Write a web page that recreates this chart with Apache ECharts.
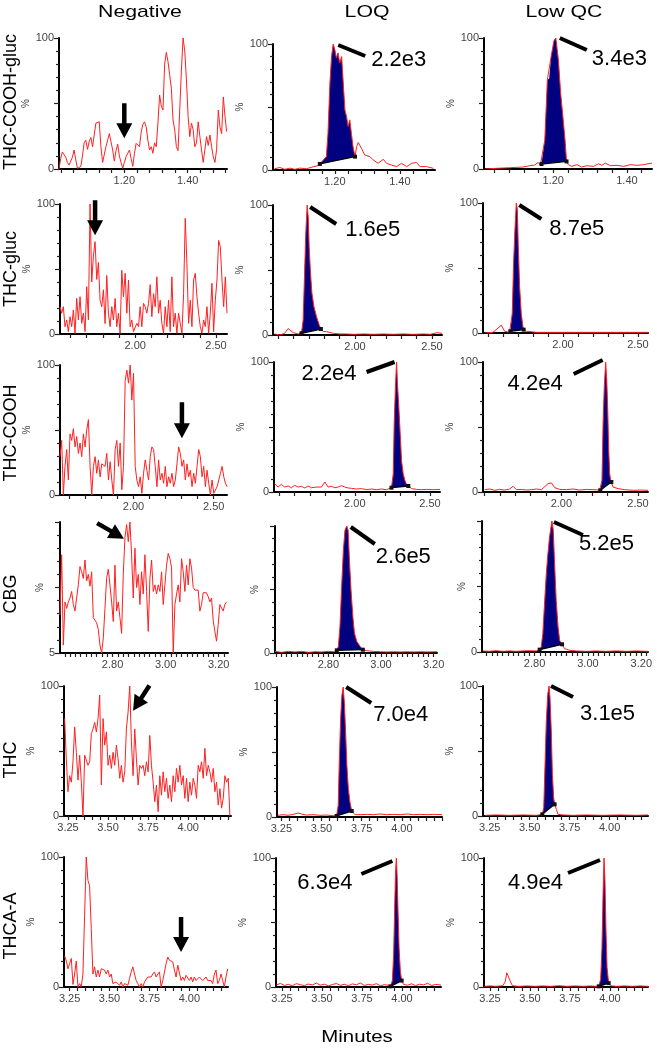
<!DOCTYPE html>
<html><head><meta charset="utf-8">
<script src="https://cdn.jsdelivr.net/npm/echarts@6/dist/echarts.min.js"></script>
<style>html,body{margin:0;padding:0;background:#fff}#c{width:657px;height:1050px}</style>
</head><body><div id="c"></div>
<script>
const FONT = "'Liberation Sans', Arial, sans-serif";
const rowNames = ['THC-COOH-gluc','THC-gluc','THC-COOH','CBG','THC','THCA-A'];
const colNames = ['Negative','LOQ','Low QC'];
const xAxisTitle = 'Minutes';
const xTickLabels = [[1.2,1.4],[2.0,2.5],[2.0,2.5],[2.8,3.0,3.2],[3.25,3.5,3.75,4.0],[3.25,3.5,3.75,4.0]];
const xMinorStep = [0.04,0.1,0.1,0.02,0.05,0.05];
const xRanges = [
 [[0.994,1.524],[1.010,1.508],[1.012,1.468]],
 [[1.535,2.568],[1.467,2.565],[1.467,2.567]],
 [[1.542,2.583],[1.462,2.567],[1.489,2.565]],
 [[2.602,3.235],[2.597,3.213],[2.603,3.225]],
 [[3.225,4.267],[3.223,4.25],[3.208,4.24]],
 [[3.215,4.242],[3.2125,4.244],[3.2125,4.238]]
];
const yTopLabels = ['100','100','100','','100','100'];
const yBottomNeg = ['0','0','0','5','0','0'];

// Negative (blank) traces: uniform sampling start time, step, intensities (%)
const negStart = [0.994, 1.535, 1.542, 2.602, 3.229, 3.219];
const negStep = [0.00529, 0.01033, 0.010417, 0.006274, 0.010417, 0.010417];
const neg1 = [0,8,13,11,9,5,3,3,9,14.5,7,0.5,1,2,10,20,22,15,21,24,17,26,35,36,36,17,5,5,17,22,27,21,14.5,6,14,19,10,5,0.5,5,9.4,12,14.5,8,2,12,19.6,21,17,28,34,36,32,22,14.5,17,12,20,17,35,56.5,48,45,80,89,82,72,61.6,37.4,30,17,14,45,75.6,100,90,68,40,24.7,35,30,17,20,36,25,14.5,5,5,24.7,18,26,17,9.4,5,15,45,32,27,55,40,28.5];
const neg2 = [21,16,21,5.6,10.8,1.8,13.3,5.6,18.5,0.5,27.4,10.8,28.7,8.2,16,1.8,36.4,10.8,100,40,60,71,42,55,26,21,34,8,45,16,5.6,21,10.8,27.4,5.6,16,0.5,49,28.7,46.7,16,41.5,5.6,10.8,1.8,0.5,8.2,5.6,21,5.6,23.6,21,16,23.6,38,13.3,31,21,44,16,26,8.2,0.5,21,5.6,26,1.8,44,5.6,16,0.5,16,8.2,0.5,31,89,54,8.2,26,5.6,41.5,46.7,28.7,16,5.6,0.5,10.8,5.6,21,0.5,16,39,1.8,26,41.5,72,67,41.5,21,44,16];
const neg3 = [29.5,42,0,22,35,11.5,47,42,51,37,45,32,40,29.5,47,37,50,58,22,0,22,29.5,16.7,27,14,24,24,22,32,11.5,25.6,11.5,0,35,42,22,40,4,22,88,96,86,100,73,93.6,22,11.5,6.4,14,1.3,16.7,27,19,11.5,29.5,37,35,22,6.4,27,11.5,16.7,9,22,6.4,14,9,16.7,6.4,11.5,24,37,32,22,27,11.5,24,14,19,6.4,16.7,9,22,35,29.5,14,22,6.4,19,9,0,11.5,1.3,0,6.4,11.5,16.7,22,14,9,6.4];
const neg4 = [29,75,6,39,34,39,42,47,37,32,42,52,66,62,57,71,55,60,51,62,27,25,23,18,6,0,11.5,34,57,64,52,39,24,67,32,39,27,15,60,88,98,85,100,75,42,80,50,60,37,62,45,75,47,16.5,57,71,47,52,45,52,47,62,37,52,67,76,72,65,0,37,45,52,39,72,62,47,67,52,72,65,50,48,47,48,32,37,46,47,46,43,39,42,25,16.5,9,21.6,37,37,32,37,39];
const neg5 = [75,44,18.7,31,26,41.7,68.5,49,27.6,46.8,26,0,46.8,46.8,39,41.7,63.4,67,72,64.7,75,93,23.8,75,54.5,64.7,39,46.8,36.6,49,39,54.5,44,29,39,26,34,67,80,100,57,31,67,44,23.8,39,36.6,39,31,41.7,34,62,39,26,11,23.8,3.3,31,16,34,18.7,29,13.6,23.8,11,31,18.7,36.6,26,39,23.8,31,13.6,29,11,26,16,29,23.8,13.6,39,34,41.7,29,52,31,39,34,26,36.6,18.7,26,8.4,21,6,13.6,31,26,29,0];
const neg6 = [24,20,14,18,22,2,10,20,0,2.6,0,10,55,100,82,78,45,10,15.5,7.7,13,7.7,14,14,13,10,13,7.7,10,2.6,1.3,3.9,2.6,1.3,3.9,0,2.6,3.9,1.3,6.4,11.6,15.5,10,5,2.6,0,2.6,0,3.9,2.6,7.7,9,7.7,10,11.6,7.7,10,11.6,0,5,6.4,18,23,20.6,22,19.3,13,7.7,16.8,15.5,5,7.7,5,9,7.7,5,7.7,3.9,7.7,5,3.9,7.7,9,5,3.9,7.7,5,3.9,5,2.6,10,13,2.6,5,10,5,0,7.7,14];
const negTraces = [neg1, neg2, neg3, neg4, neg5, neg6];

// LOQ traces [time, %]
const loq1 = [[1.015,1],[1.031,2],[1.046,0.5],[1.062,1.5],[1.077,0.5],[1.092,1.5],[1.113,1],[1.133,2.5],[1.149,3.5],[1.154,4.8],[1.174,10.6],[1.179,29],[1.185,69],[1.190,90],[1.195,100],[1.200,95.5],[1.205,89],[1.210,93],[1.215,85],[1.221,90],[1.226,69],[1.231,47.7],[1.236,42.4],[1.241,34.5],[1.246,39.8],[1.251,29],[1.256,18.6],[1.262,10.6],[1.267,18.6],[1.272,21.8],[1.282,17.2],[1.292,11.9],[1.308,10.6],[1.318,8],[1.333,5.3],[1.349,8.5],[1.359,5.3],[1.374,4],[1.390,2.7],[1.405,5.3],[1.421,2.7],[1.436,5.3],[1.451,6],[1.462,2.7],[1.482,2.7],[1.503,1.3]];
const loq2 = [[1.478,0.8],[1.511,0],[1.543,1.3],[1.565,5],[1.576,5.6],[1.598,1.8],[1.630,0.8],[1.652,1.3],[1.663,11.5],[1.674,55],[1.680,78],[1.689,100],[1.696,90.6],[1.702,67.6],[1.711,47],[1.720,32],[1.733,21.7],[1.750,14],[1.767,7.7],[1.778,4.6],[1.793,2.6],[1.815,2.6],[1.859,1.3],[1.902,0.8],[1.946,0.8],[1.989,0.5],[2.054,0.8],[2.120,0.5],[2.185,0.8],[2.250,0.5],[2.315,0.8],[2.380,0.5],[2.446,0.8],[2.489,0.5],[2.533,1.8],[2.565,1.3]];
const loq3 = [[1.467,6.4],[1.489,3.8],[1.511,5.9],[1.533,3.8],[1.556,4.6],[1.578,3.3],[1.600,5.1],[1.622,3.8],[1.644,4.4],[1.667,3.1],[1.689,4.6],[1.711,3.3],[1.744,3.8],[1.778,3.8],[1.800,7.7],[1.822,3.8],[1.844,4.4],[1.867,3.3],[1.889,3.8],[1.911,4.9],[1.933,3.8],[1.956,3.1],[1.978,2.8],[2.011,2.3],[2.044,2.6],[2.078,1.8],[2.111,2.3],[2.144,1.8],[2.178,2.3],[2.211,1.8],[2.244,3.3],[2.256,14],[2.262,52.6],[2.271,83],[2.278,100],[2.284,83],[2.293,65],[2.302,45],[2.311,24],[2.322,14],[2.333,9],[2.344,5.9],[2.356,4.6],[2.378,2.6],[2.411,2],[2.444,1.8],[2.478,2],[2.522,1.8],[2.567,2]];
const loq4 = [[2.597,1.3],[2.622,0.5],[2.648,1.3],[2.673,0.8],[2.698,1.3],[2.724,0.5],[2.749,1],[2.775,0.8],[2.800,1.3],[2.819,1],[2.832,2.1],[2.838,5.2],[2.844,21],[2.851,55],[2.857,81],[2.863,96.6],[2.870,100],[2.875,96.6],[2.880,73],[2.886,49.6],[2.893,28.7],[2.899,15.7],[2.908,9.1],[2.921,5.2],[2.931,2.6],[2.946,1.8],[2.971,1.3],[2.997,1],[3.022,0.8],[3.048,1],[3.073,0.8],[3.098,1],[3.124,0.8],[3.149,1],[3.175,0.8],[3.213,1]];
const loq5 = [[3.229,1.3],[3.260,1.8],[3.292,1.3],[3.323,2],[3.354,3.1],[3.375,2.3],[3.406,1.5],[3.448,1.8],[3.490,1.3],[3.531,1.5],[3.573,1],[3.594,0.8],[3.604,9],[3.610,39.7],[3.619,75.6],[3.627,93.6],[3.635,100],[3.642,88.5],[3.650,65.4],[3.658,39.7],[3.667,21.8],[3.677,11.5],[3.688,4.6],[3.708,1.8],[3.740,1.8],[3.781,2],[3.823,1.8],[3.865,2.3],[3.906,1.8],[3.948,2],[3.990,1.8],[4.031,2.3],[4.073,1.8],[4.115,2],[4.156,1.8],[4.198,2],[4.250,1.8]];
const loq6 = [[3.215,1.5],[3.240,2.8],[3.265,1.2],[3.290,2.0],[3.315,1.0],[3.340,2.6],[3.365,1.8],[3.390,1.1],[3.415,2.3],[3.440,1.6],[3.465,3.0],[3.490,1.4],[3.515,2.2],[3.540,0.9],[3.565,1.9],[3.590,2.7],[3.615,1.3],[3.640,2.1],[3.665,1.0],[3.690,2.4],[3.715,1.7],[3.740,3.1],[3.765,1.2],[3.790,2.0],[3.815,1.5],[3.840,2.6],[3.865,1.0],[3.890,1.8],[3.915,1.4],[3.928,0.5],[3.940,5],[3.948,25],[3.955,65],[3.960,90],[3.965,100],[3.970,85],[3.975,60],[3.982,30],[3.990,12],[3.998,5],[4.010,2],[4.035,1.4],[4.060,2.5],[4.085,1.1],[4.110,2.2],[4.135,1.6],[4.160,2.9],[4.185,1.2],[4.210,2.0],[4.244,1.5]];
// Low QC traces [time, %]
const qc1 = [[1.014,0],[1.045,0.5],[1.082,1],[1.118,1.5],[1.136,2.5],[1.150,3],[1.159,5],[1.165,3],[1.168,3.8],[1.177,22],[1.184,68],[1.189,69],[1.194,85.6],[1.202,98],[1.207,100],[1.214,83],[1.220,58],[1.227,37.5],[1.232,22],[1.236,5.8],[1.241,3.3],[1.250,2],[1.264,3.3],[1.277,1.5],[1.291,2.5],[1.309,2],[1.323,4],[1.332,2.8],[1.341,4.5],[1.355,2.5],[1.373,2.8],[1.391,2],[1.409,3.3],[1.427,2.8],[1.445,3.3],[1.468,4.5]];
const qc2 = [[1.478,0],[1.533,0.5],[1.567,3.8],[1.589,6],[1.611,1.3],[1.644,0.5],[1.649,1.3],[1.662,15],[1.671,54],[1.680,79.5],[1.689,100],[1.696,95],[1.702,67],[1.711,36],[1.722,15],[1.733,5],[1.738,2.6],[1.756,1.3],[1.789,1],[1.822,0.5],[1.933,0.5],[2.044,0.5],[2.156,0.5],[2.267,0.5],[2.378,0.5],[2.489,0.5],[2.567,0.5]];
const qc3 = [[1.500,1.8],[1.533,2.3],[1.565,1.3],[1.598,2],[1.630,1.5],[1.663,2.3],[1.685,4.4],[1.707,1.8],[1.739,2],[1.772,1.5],[1.804,1.8],[1.837,2.3],[1.870,1.8],[1.913,6.4],[1.935,7],[1.957,3.3],[1.989,2],[2.033,1.8],[2.076,2.3],[2.120,1.5],[2.163,2],[2.207,1.8],[2.250,1.5],[2.254,1.3],[2.265,9],[2.272,52.6],[2.280,80.8],[2.289,100],[2.296,86],[2.302,65],[2.309,32],[2.315,14],[2.322,8.5],[2.326,7.7],[2.337,3.8],[2.370,2.6],[2.413,1.8],[2.467,1.3],[2.522,1.5],[2.565,1.3]];
const qc4 = [[2.606,0.8],[2.631,0.5],[2.656,1],[2.681,0.5],[2.706,0.8],[2.731,0.5],[2.756,0.8],[2.781,1],[2.806,0.8],[2.819,1.8],[2.825,3.8],[2.831,14],[2.838,39.4],[2.844,59.8],[2.850,75],[2.856,87.8],[2.865,100],[2.870,92.9],[2.875,67.4],[2.881,39.4],[2.888,19],[2.894,8.9],[2.900,6.5],[2.903,5.9],[2.913,2.5],[2.931,1.3],[2.956,0.8],[2.994,0.5],[3.031,0.8],[3.069,0.5],[3.106,0.8],[3.144,0.5],[3.181,0.8],[3.225,0.5]];
const qc5 = [[3.219,0.5],[3.292,0.8],[3.375,0.5],[3.458,0.8],[3.542,0.5],[3.579,1.3],[3.588,6.4],[3.596,39.7],[3.604,73],[3.613,93.6],[3.621,100],[3.627,91],[3.635,65.4],[3.642,32],[3.650,14],[3.656,9],[3.667,5.1],[3.677,1.3],[3.708,0.8],[3.771,0.5],[3.854,0.8],[3.958,0.5],[4.063,0.8],[4.167,0.5],[4.240,0.8]];
const qc6 = [[3.215,0.5],[3.250,0.8],[3.290,0.5],[3.330,1],[3.345,4],[3.355,11],[3.365,12],[3.375,5],[3.390,1],[3.430,0.5],[3.480,0.8],[3.530,0.5],[3.580,0.8],[3.630,0.5],[3.680,1],[3.730,0.5],[3.780,0.8],[3.830,0.5],[3.880,0.8],[3.915,0.5],[3.930,0.5],[3.942,6],[3.950,30],[3.957,72],[3.963,100],[3.969,82],[3.975,45],[3.982,15],[3.992,3],[4.005,1],[4.040,0.5],[4.090,0.8],[4.140,0.5],[4.190,0.8],[4.240,0.5]];
const loqTraces = [loq1, loq2, loq3, loq4, loq5, loq6];
const qcTraces = [qc1, qc2, qc3, qc4, qc5, qc6];
// integration limits (min)
const loqInt = [[1.154,1.262],[1.652,1.778],[2.244,2.356],[2.832,2.931],[3.594,3.688],[3.928,3.998]];
const qcInt = [[1.168,1.236],[1.649,1.738],[2.254,2.326],[2.819,2.903],[3.579,3.656],[3.930,3.992]];
// peak heights (counts)
const loqLabels = ['2.2e3','1.6e5','2.2e4','2.6e5','7.0e4','6.3e4'];
const qcLabels = ['3.4e3','8.7e5','4.2e4','5.2e5','3.1e5','4.9e4'];
// arrows in blank: tip [time, %]
const arrowTips = [[1.20,23.4],[1.752,76],[2.302,43.6],[2.843,87.3],[3.656,81],[3.948,27]];

// ---- layout (pixels) ----
const gridBox = [
 [[59,227,38,169],[273,435,44,170],[484,652,38,169]],
 [[60,227,204,334],[273,442,205,335],[483,648,203,333]],
 [[60,227,365,495],[274,440,362,492],[483,648,362,492]],
 [[60,228,522,653],[275,437,526,653],[482,648,521,652]],
 [[64,231,686,816],[277,442,687,817],[483,648,686,816]],
 [[64,228,857,987],[276,441,858,987],[484,648,858,987]]
];
const arrowGeom = [[90,35],[90,35],[90,36],[30,31],[123,30],[90,35]];
// annotation: line dx1,dy1,dx2,dy2, text dx,dy
const annotLoq = [[5,1,32,12,38,16],[3,2,29,19,38,25],[-2,0,-30,10,-40,12],[4,1,28,18,29,31],[3,0,28,16,30,28],[-4,3,-35,16,-44,25]];
const annotQc = [[4,0,31,12,36,21],[3,2,25,16,33,26],[-3,-2,-32,12,-43,22],[2,1,31,14,27,23],[2,0,24,11,31,28],[-4,2,-36,15,-41,25]];

const grids = [], xAxes = [], yAxes = [], series = [];
const AX = '#000', LBL = '#444';
for (let r = 0; r < 6; r++) {
  for (let c = 0; c < 3; c++) {
    const k = grids.length;
    const b = gridBox[r][c];
    grids.push({left: b[0], top: b[2], width: b[1] - b[0], height: b[3] - b[2], containLabel: false, outerBoundsMode: 'none'});
    const mn = xRanges[r][c][0], mx = xRanges[r][c][1], st = xMinorStep[r];
    const ticks = [];
    for (let i = Math.ceil(mn / st - 1e-6); i * st <= mx + 1e-9; i++) ticks.push(+(i * st).toFixed(4));
    xAxes.push({
      type: 'value', gridIndex: k, min: mn, max: mx,
      axisLine: {onZero: false, lineStyle: {color: AX, width: 2}},
      axisTick: {show: true, customValues: ticks, length: 4, lineStyle: {color: '#222', width: 1.2}},
      axisLabel: {customValues: xTickLabels[r], formatter: v => v.toFixed(2), fontSize: 11, color: LBL, margin: 6, fontFamily: FONT},
      splitLine: {show: false}
    });
    const top = yTopLabels[r], bot = c === 0 ? yBottomNeg[r] : '0';
    yAxes.push({
      type: 'value', gridIndex: k, min: 0, max: 100, interval: 50,
      axisLine: {show: true, lineStyle: {color: AX, width: 2}},
      axisTick: {show: true, length: 5, lineStyle: {color: '#222', width: 1.2}},
      minorTick: {show: true, splitNumber: 5, length: 3, lineStyle: {color: '#222', width: 1.2}},
      axisLabel: {formatter: v => v === 0 ? bot : (v === 100 ? top : ''), fontSize: 11, color: LBL, margin: 5, fontFamily: FONT},
      splitLine: {show: false},
      name: '%', nameLocation: 'middle', nameGap: 11, nameRotate: 90,
      nameTextStyle: {fontSize: 10, color: LBL, fontFamily: FONT}
    });
    let trace;
    if (c === 0) {
      trace = negTraces[r].map((v, i) => [negStart[r] + i * negStep[r], v]);
    } else {
      trace = c === 1 ? loqTraces[r] : qcTraces[r];
    }
    series.push({type: 'line', xAxisIndex: k, yAxisIndex: k, data: trace, symbol: 'none', showSymbol: false,
      lineStyle: {color: '#ff2020', width: 1}, z: 3, silent: true, animation: false});
    if (c === 0) {
      const tip = arrowTips[r], g = arrowGeom[r];
      series.push({type: 'custom', xAxisIndex: k, yAxisIndex: k, data: [tip], z: 5, silent: true,
        renderItem: (params, api) => {
          const p = api.coord(tip);
          const ang = g[0] * Math.PI / 180, L = g[1], hl = 15, hw = 16, sw = 4.5;
          const loc = [[0,0],[-hl,-hw/2],[-hl,-sw/2],[-L,-sw/2],[-L,sw/2],[-hl,sw/2],[-hl,hw/2]];
          const cs = Math.cos(ang), sn = Math.sin(ang);
          const pts = loc.map(q => [p[0] + q[0] * cs - q[1] * sn, p[1] + q[0] * sn + q[1] * cs]);
          return {type: 'polygon', shape: {points: pts}, style: {fill: '#000'}};
        }});
    } else {
      const lim = c === 1 ? loqInt[r] : qcInt[r];
      const seg = trace.filter(p => p[0] >= lim[0] - 1e-9 && p[0] <= lim[1] + 1e-9);
      series.push({type: 'custom', xAxisIndex: k, yAxisIndex: k, data: [seg[0]], z: 2, silent: true,
        renderItem: (params, api) => ({type: 'polygon', shape: {points: seg.map(p => api.coord(p))}, style: {fill: '#000080'}})});
      series.push({type: 'custom', xAxisIndex: k, yAxisIndex: k, data: [seg[0]], z: 4, silent: true,
        renderItem: (params, api) => {
          const a = api.coord(seg[0]), b2 = api.coord(seg[seg.length - 1]);
          return {type: 'group', children: [
            {type: 'line', shape: {x1: a[0], y1: a[1], x2: b2[0], y2: b2[1]}, style: {stroke: '#000', lineWidth: 1.3}},
            {type: 'rect', shape: {x: a[0] - 2, y: a[1] - 2, width: 4, height: 4}, style: {fill: '#111'}},
            {type: 'rect', shape: {x: b2[0] - 2, y: b2[1] - 2, width: 4, height: 4}, style: {fill: '#111'}}
          ]};
        }});
      let apex = trace[0];
      trace.forEach(p => { if (p[1] > apex[1]) apex = p; });
      const an = c === 1 ? annotLoq[r] : annotQc[r];
      const label = c === 1 ? loqLabels[r] : qcLabels[r];
      series.push({type: 'custom', xAxisIndex: k, yAxisIndex: k, data: [apex], z: 6, silent: true,
        renderItem: (params, api) => {
          const p = api.coord(apex);
          return {type: 'group', children: [
            {type: 'line', shape: {x1: p[0] + an[0], y1: p[1] + an[1], x2: p[0] + an[2], y2: p[1] + an[3]}, style: {stroke: '#000', lineWidth: 4}},
            {type: 'text', x: p[0] + an[4], y: p[1] + an[5], style: {text: label, fontSize: 22, fontFamily: FONT, fill: '#000', align: an[4] < 0 ? 'right' : 'left', verticalAlign: 'middle'}}
          ]};
        }});
    }
  }
}
const colTitleX = [140, 367, 564];
const rowLabelY = [102, 269, 433, 594, 760, 926];
const graphic = [];
colNames.forEach((t, i) => graphic.push({type: 'text', x: colTitleX[i], y: 12, scaleX: 1.25,
  style: {text: t, fontSize: 17, fontFamily: FONT, fill: '#000', align: 'center', verticalAlign: 'middle'}}));
rowNames.forEach((t, i) => graphic.push({type: 'text', x: 11, y: rowLabelY[i], rotation: Math.PI / 2,
  style: {text: t, fontSize: 18, fontFamily: FONT, fill: '#000', align: 'center', verticalAlign: 'middle'}}));
graphic.push({type: 'text', x: 357, y: 1037, scaleX: 1.2,
  style: {text: xAxisTitle, fontSize: 17, fontFamily: FONT, fill: '#000', align: 'center', verticalAlign: 'middle'}});

const chart = echarts.init(document.getElementById('c'), null, {renderer: 'canvas'});
chart.setOption({animation: false, backgroundColor: '#fff', grid: grids, xAxis: xAxes, yAxis: yAxes, series: series, graphic: graphic});
</script></body></html>
